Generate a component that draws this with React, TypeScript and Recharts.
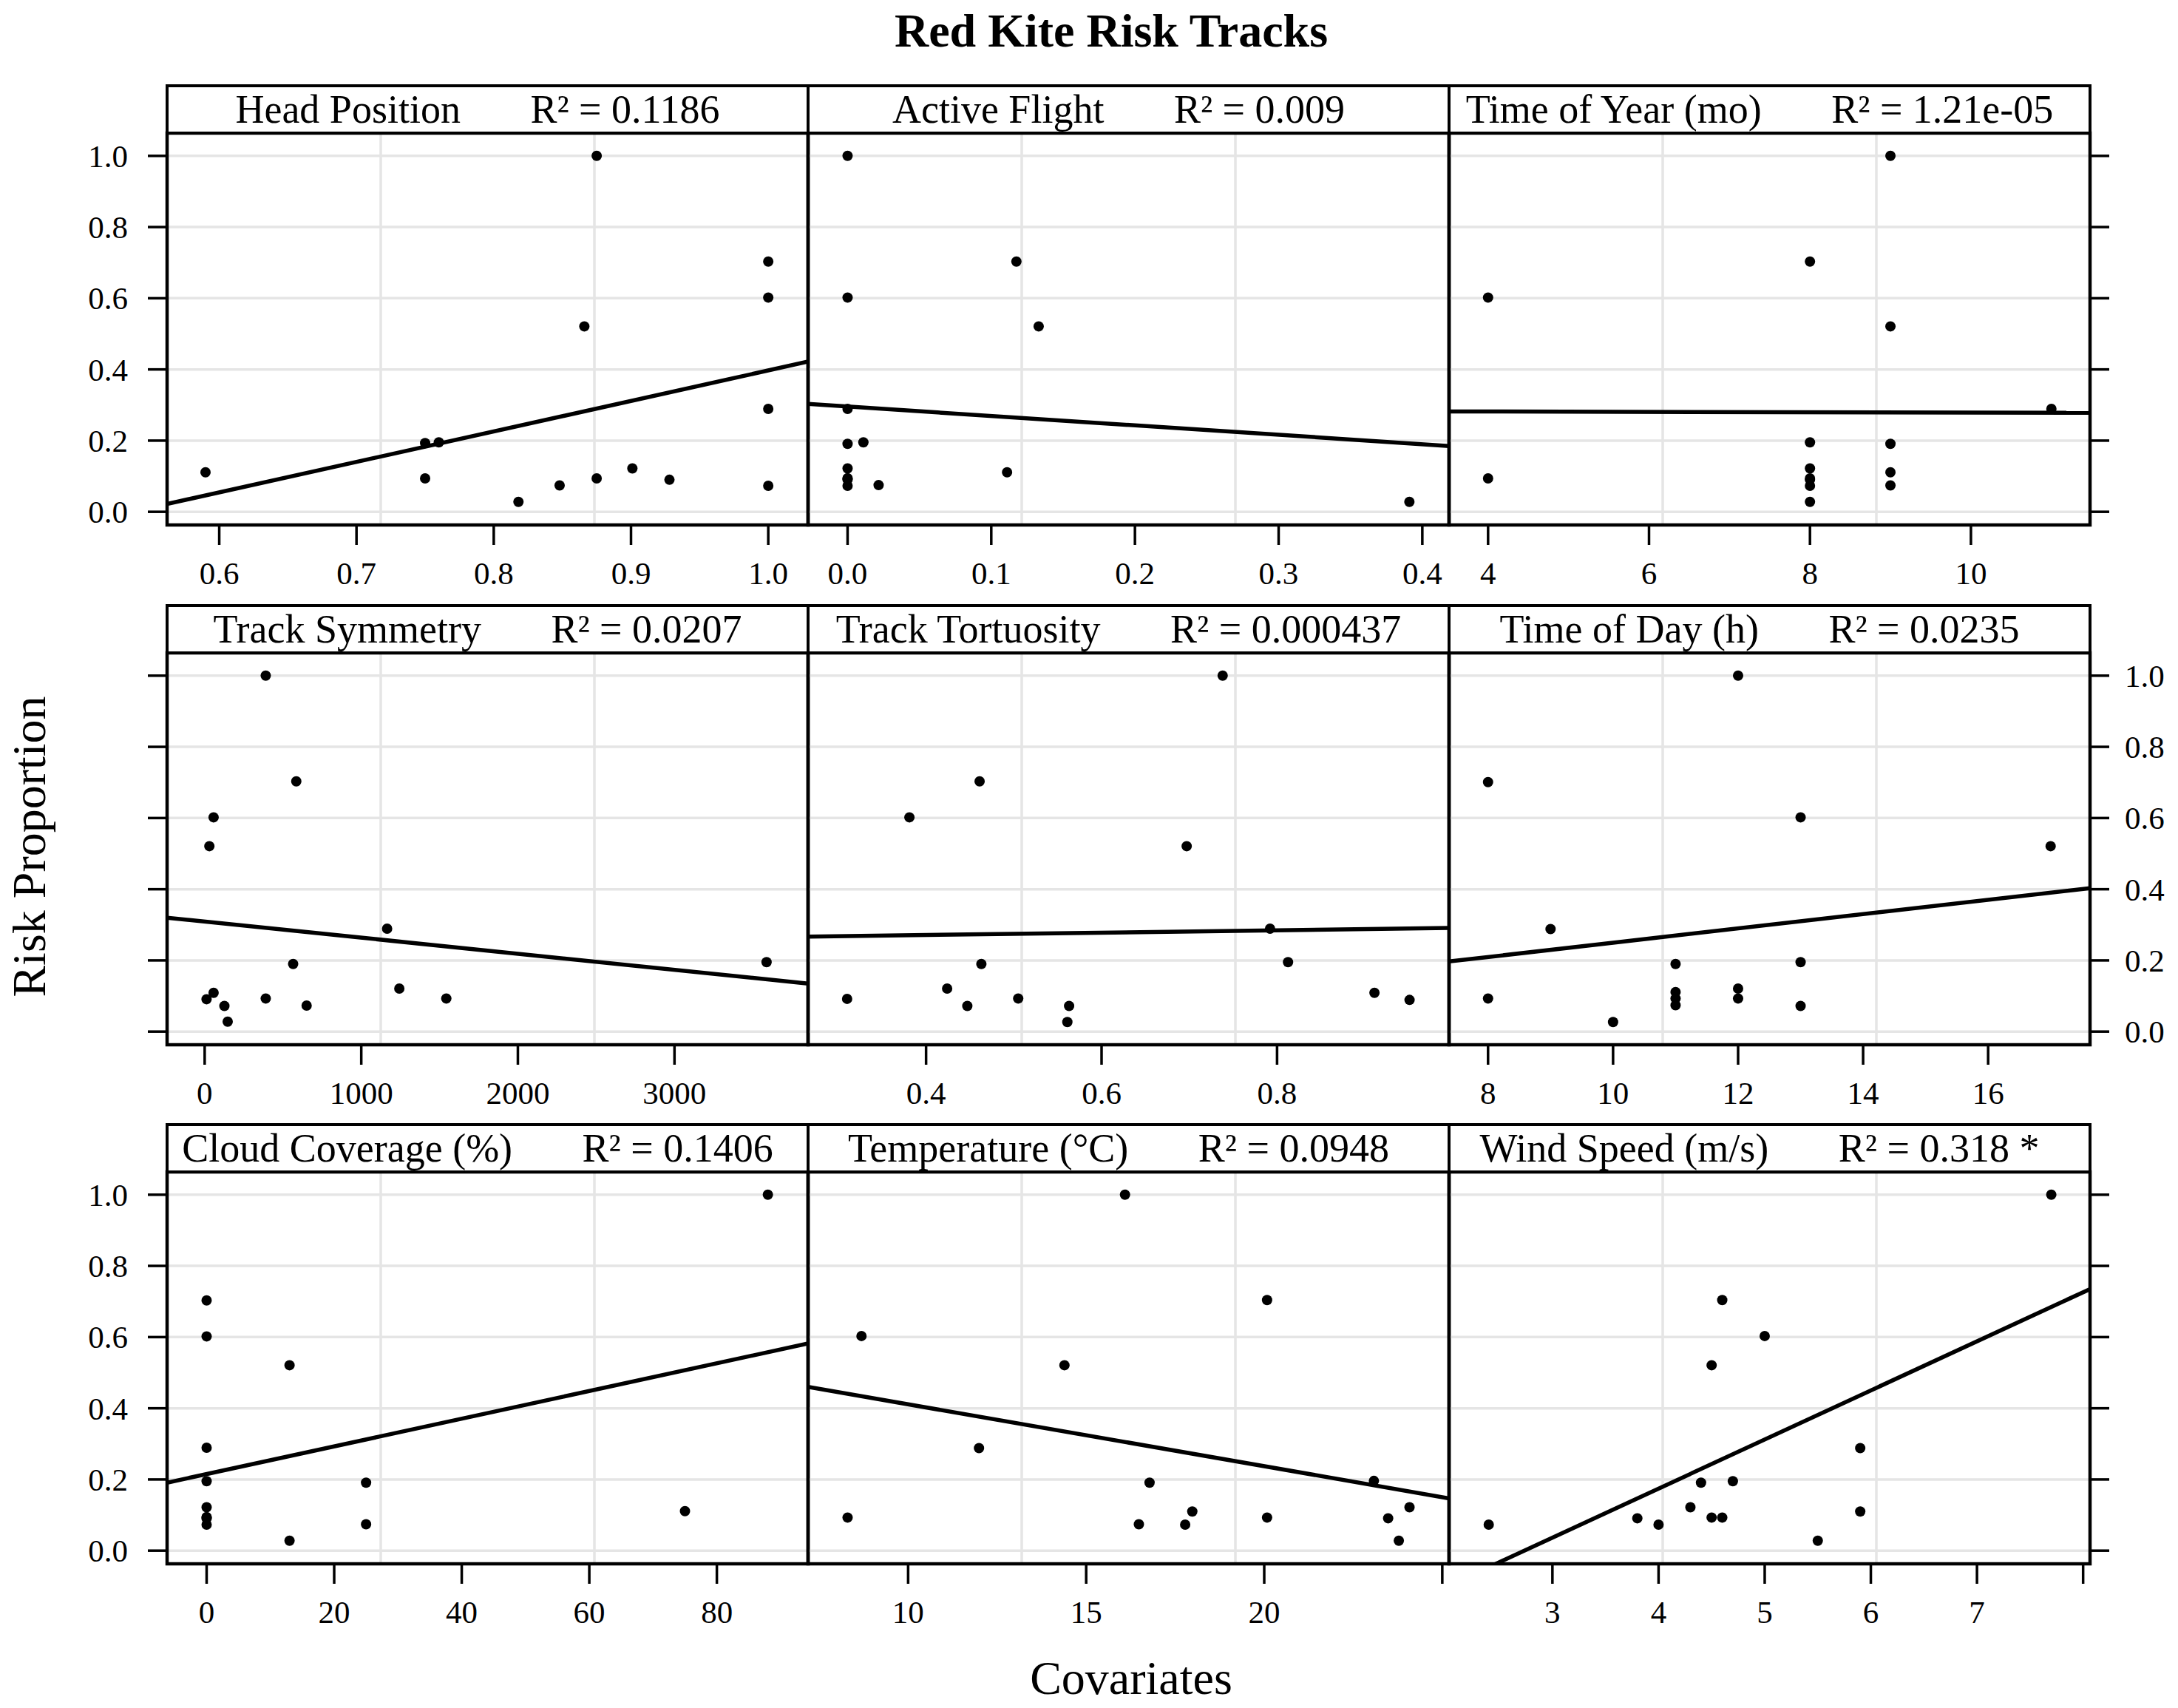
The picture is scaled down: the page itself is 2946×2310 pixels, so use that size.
import React from 'react';
import {
  ScatterChart,
  Scatter,
  XAxis,
  YAxis,
  CartesianGrid,
  ReferenceLine,
  ReferenceArea,
} from 'recharts';

const FONT = "'Liberation Serif','Times New Roman',Times,serif";

// ---------- shared y axis ----------
const yTicks = [0, 0.2, 0.4, 0.6, 0.8, 1.0];
const yTickLabels = ['0.0', '0.2', '0.4', '0.6', '0.8', '1.0'];
const yDomain = [-0.037, 1.064];

// ---------- panel data: [covariate, risk proportion] ----------
const headPosition = [
  [0.59, 0.111], [0.75, 0.193], [0.76, 0.195], [0.75, 0.094], [0.818, 0.028],
  [0.848, 0.074], [0.866, 0.521], [0.875, 1.0], [0.875, 0.094], [0.901, 0.122],
  [0.928, 0.09], [1.0, 0.703], [1.0, 0.602], [1.0, 0.289], [1.0, 0.073],
];
const headDomain = [0.562, 1.029];
const headTicks = [0.6, 0.7, 0.8, 0.9, 1.0];
const headLabels = ['0.6', '0.7', '0.8', '0.9', '1.0'];
const headFit = [[0.562, 0.022], [1.029, 0.422]];

const activeFlight = [
  [0, 1.0], [0.1175, 0.703], [0, 0.602], [0.133, 0.521], [0, 0.289],
  [0, 0.191], [0.011, 0.195], [0, 0.122], [0, 0.094], [0, 0.094],
  [0, 0.09], [0, 0.073], [0.0216, 0.075], [0.111, 0.111], [0.391, 0.028],
];
const activeDomain = [-0.0275, 0.4186];
const activeTicks = [0, 0.1, 0.2, 0.3, 0.4];
const activeLabels = ['0.0', '0.1', '0.2', '0.3', '0.4'];
const activeFit = [[-0.0275, 0.303], [0.4186, 0.185]];

const timeOfYear = [
  [9, 1.0], [8, 0.703], [4, 0.602], [9, 0.521], [11, 0.289],
  [8, 0.195], [9, 0.191], [4, 0.094], [8, 0.122], [8, 0.094],
  [8, 0.09], [8, 0.073], [8, 0.028], [9, 0.111], [9, 0.074],
];
const yearDomain = [3.515, 11.48];
const yearTicks = [4, 6, 8, 10];
const yearLabels = ['4', '6', '8', '10'];
const yearFit = [[3.515, 0.282], [11.48, 0.278]];

const trackSymmetry = [
  [390, 1.0], [585, 0.703], [57, 0.602], [30, 0.521], [1165, 0.289],
  [565, 0.19], [3588, 0.195], [1243, 0.121], [57, 0.109], [12, 0.091],
  [390, 0.093], [1543, 0.093], [126, 0.072], [651, 0.073], [147, 0.028],
];
const symDomain = [-240, 3853];
const symTicks = [0, 1000, 2000, 3000];
const symLabels = ['0', '1000', '2000', '3000'];
const symFit = [[-240, 0.32], [3853, 0.135]];

const trackTortuosity = [
  [0.738, 1.0], [0.461, 0.703], [0.381, 0.602], [0.697, 0.521], [0.792, 0.289],
  [0.463, 0.19], [0.8125, 0.195], [0.424, 0.121], [0.911, 0.109], [0.31, 0.092],
  [0.505, 0.093], [0.951, 0.089], [0.447, 0.072], [0.563, 0.072], [0.561, 0.027],
];
const tortDomain = [0.2655, 0.996];
const tortTicks = [0.4, 0.6, 0.8];
const tortLabels = ['0.4', '0.6', '0.8'];
const tortFit = [[0.2655, 0.267], [0.996, 0.291]];

const timeOfDay = [
  [12, 1.0], [8, 0.701], [13, 0.602], [17, 0.521], [9, 0.288],
  [11, 0.19], [13, 0.195], [12, 0.121], [12, 0.093], [11, 0.111],
  [11, 0.093], [11, 0.074], [8, 0.093], [10, 0.027], [13, 0.072],
];
const dayDomain = [7.376, 17.63];
const dayTicks = [8, 10, 12, 14, 16];
const dayLabels = ['8', '10', '12', '14', '16'];
const dayFit = [[7.376, 0.197], [17.63, 0.403]];

const cloudCoverage = [
  [88, 1.0], [0, 0.703], [0, 0.602], [13, 0.521], [0, 0.289],
  [0, 0.195], [25, 0.191], [0, 0.122], [0, 0.094], [0, 0.094],
  [0, 0.09], [0, 0.073], [75, 0.111], [25, 0.074], [13, 0.028],
];
const cloudDomain = [-6.2, 94.3];
const cloudTicks = [0, 20, 40, 60, 80];
const cloudLabels = ['0', '20', '40', '60', '80'];
const cloudFit = [[-6.2, 0.191], [94.3, 0.582]];

const temperature = [
  [16.09, 1.0], [20.08, 0.704], [8.69, 0.603], [14.39, 0.521], [11.99, 0.288],
  [16.78, 0.191], [23.08, 0.196], [24.08, 0.122], [17.98, 0.11], [8.3, 0.093],
  [20.08, 0.093], [23.48, 0.091], [16.48, 0.074], [17.78, 0.073], [23.78, 0.028],
];
const tempDomain = [7.19, 25.19];
const tempTicks = [10, 15, 20, 25];
const tempLabels = ['10', '15', '20', ''];
const tempFit = [[7.19, 0.46], [25.19, 0.147]];

const windSpeed = [
  [7.7, 1.0], [4.6, 0.704], [5.0, 0.603], [4.5, 0.521], [5.9, 0.288],
  [4.4, 0.191], [4.7, 0.195], [4.3, 0.122], [5.9, 0.11], [3.8, 0.091],
  [4.5, 0.093], [4.6, 0.093], [2.4, 0.073], [4.0, 0.073], [5.5, 0.028],
];
const windDomain = [2.026, 8.065];
const windTicks = [3, 4, 5, 6, 7, 8];
const windLabels = ['3', '4', '5', '6', '7', ''];
const windFit = [[2.026, -0.098], [8.065, 0.735]];

const panelTitles = [
  'Head Position', 'Active Flight', 'Time of Year (mo)',
  'Track Symmetry', 'Track Tortuosity', 'Time of Day (h)',
  'Cloud Coverage (%)', 'Temperature (°C)', 'Wind Speed (m/s)',
];
const panelR2 = [
  'R² = 0.1186', 'R² = 0.009', 'R² = 1.21e-05',
  'R² = 0.0207', 'R² = 0.000437', 'R² = 0.0235',
  'R² = 0.1406', 'R² = 0.0948', 'R² = 0.318 *',
];

const panels = [
  { points: headPosition, domain: headDomain, ticks: headTicks, labels: headLabels, fit: headFit },
  { points: activeFlight, domain: activeDomain, ticks: activeTicks, labels: activeLabels, fit: activeFit },
  { points: timeOfYear, domain: yearDomain, ticks: yearTicks, labels: yearLabels, fit: yearFit },
  { points: trackSymmetry, domain: symDomain, ticks: symTicks, labels: symLabels, fit: symFit },
  { points: trackTortuosity, domain: tortDomain, ticks: tortTicks, labels: tortLabels, fit: tortFit },
  { points: timeOfDay, domain: dayDomain, ticks: dayTicks, labels: dayLabels, fit: dayFit },
  { points: cloudCoverage, domain: cloudDomain, ticks: cloudTicks, labels: cloudLabels, fit: cloudFit },
  { points: temperature, domain: tempDomain, ticks: tempTicks, labels: tempLabels, fit: tempFit },
  { points: windSpeed, domain: windDomain, ticks: windTicks, labels: windLabels, fit: windFit },
];

// ---------- layout ----------
const COL_LEFT = [226, 1093, 1960];
const ROW_TOP = [180, 883, 1585];
const PANEL_W = 867;
const PANEL_H = 530;
const STRIP_H = 64;
const AX_W = 100;
const M = { top: 70, right: 30, bottom: 70, left: 30 };
const X_AX_H = 30;
const CW = PANEL_W + M.left + M.right + 2 * AX_W;
const CH = PANEL_H + M.top + M.bottom + X_AX_H;

const TICK_LINE = { stroke: '#000', strokeWidth: 3.5 };
const TICK_FONT = 43;

const Dot = (props: any) => <circle cx={props.cx} cy={props.cy} r={7} fill="#000" />;

function Panel({ cfg, col, row }: { cfg: any; col: number; row: number }) {
  const data = cfg.points.map((p: number[]) => ({ x: p[0], y: p[1] }));
  const leftTicks = col === 0;
  const leftLabels = col === 0 && row !== 1;
  const rightTicks = col === 2;
  const rightLabels = col === 2 && row === 1;

  const xTick = (p: any) => {
    const i = cfg.ticks.indexOf(p.payload.value);
    const txt = i >= 0 ? cfg.labels[i] : '';
    return (
      <text x={p.x} y={p.y + 33} textAnchor="middle" fontFamily={FONT} fontSize={TICK_FONT} fill="#000">
        {txt}
      </text>
    );
  };
  const yTickFn = (show: boolean, anchor: string) => (p: any) => {
    if (!show) return <g />;
    const i = yTicks.indexOf(p.payload.value);
    return (
      <text x={p.x} y={p.y} dy="0.35em" textAnchor={anchor} fontFamily={FONT} fontSize={TICK_FONT} fill="#000">
        {i >= 0 ? yTickLabels[i] : ''}
      </text>
    );
  };

  return (
    <div
      style={{
        position: 'absolute',
        left: COL_LEFT[col] - M.left - AX_W,
        top: ROW_TOP[row] - M.top,
        width: CW,
        height: CH,
      }}
    >
      <ScatterChart width={CW} height={CH} margin={M}>
        <CartesianGrid
          yAxisId="L"
          stroke="#e5e5e5"
          strokeWidth={3.5}
          verticalCoordinatesGenerator={(args: any) => {
            const o = args.offset;
            return [o.left + o.width / 3, o.left + (2 * o.width) / 3];
          }}
        />
        <XAxis
          type="number"
          dataKey="x"
          domain={cfg.domain}
          ticks={cfg.ticks}
          allowDataOverflow
          interval={0}
          height={X_AX_H}
          axisLine={false}
          tickLine={TICK_LINE}
          tickSize={27}
          tickMargin={20}
          tick={xTick}
        />
        <YAxis
          yAxisId="L"
          orientation="left"
          type="number"
          dataKey="y"
          domain={yDomain}
          ticks={yTicks}
          allowDataOverflow
          interval={0}
          width={AX_W}
          axisLine={false}
          tickLine={leftTicks ? TICK_LINE : false}
          tickSize={26}
          tickMargin={27}
          tick={yTickFn(leftLabels, 'end')}
        />
        <YAxis
          yAxisId="R"
          orientation="right"
          type="number"
          domain={yDomain}
          ticks={yTicks}
          allowDataOverflow
          interval={0}
          width={AX_W}
          axisLine={false}
          tickLine={rightTicks ? TICK_LINE : false}
          tickSize={26}
          tickMargin={21}
          tick={yTickFn(rightLabels, 'start')}
        />
        <ReferenceLine
          yAxisId="L"
          segment={[
            { x: cfg.fit[0][0], y: cfg.fit[0][1] },
            { x: cfg.fit[1][0], y: cfg.fit[1][1] },
          ]}
          stroke="#000"
          strokeWidth={5.5}
          ifOverflow="hidden"
        />
        <Scatter yAxisId="L" data={data} dataKey="y" isAnimationActive={false} shape={Dot} />
        <ReferenceArea
          yAxisId="L"
          x1={cfg.domain[0]}
          x2={cfg.domain[1]}
          y1={yDomain[0]}
          y2={yDomain[1]}
          fill="none"
          fillOpacity={0}
          stroke="#000"
          strokeWidth={4.5}
          ifOverflow="visible"
        />
      </ScatterChart>
    </div>
  );
}

function Strip({ idx }: { idx: number }) {
  const col = idx % 3;
  const row = Math.floor(idx / 3);
  return (
    <div
      style={{
        position: 'absolute',
        left: COL_LEFT[col] - 2,
        top: ROW_TOP[row] - STRIP_H - 2,
        width: PANEL_W + 4,
        height: STRIP_H + 4,
        boxSizing: 'border-box',
        border: '4px solid #000',
        background: '#fff',
        fontFamily: FONT,
        fontSize: 54,
        lineHeight: `${STRIP_H - 4}px`,
        textAlign: 'center',
        whiteSpace: 'pre',
        color: '#000',
        overflow: 'hidden',
      }}
    >
      {`${panelTitles[idx]}       ${panelR2[idx]}  `}
    </div>
  );
}

export default function App() {
  return (
    <div
      style={{
        position: 'absolute',
        left: 0,
        top: 0,
        width: 2946,
        height: 2310,
        overflow: 'hidden',
        background: '#fff',
      }}
    >
      {panels.map((cfg, i) => (
        <Panel key={i} cfg={cfg} col={i % 3} row={Math.floor(i / 3)} />
      ))}
      {panels.map((_, i) => (
        <Strip key={'s' + i} idx={i} />
      ))}
      <svg
        width={2946}
        height={2310}
        style={{ position: 'absolute', left: 0, top: 0, pointerEvents: 'none' }}
      >
        <text x={1503} y={63} textAnchor="middle" fontFamily={FONT} fontWeight="bold" fontSize={64} fill="#000">
          Red Kite Risk Tracks
        </text>
        <text x={1530} y={2291} textAnchor="middle" fontFamily={FONT} fontSize={64} fill="#000">
          Covariates
        </text>
        <text
          x={0}
          y={0}
          transform="translate(61,1145) rotate(-90)"
          textAnchor="middle"
          fontFamily={FONT}
          fontSize={64}
          fill="#000"
        >
          Risk Proportion
        </text>
      </svg>
    </div>
  );
}
